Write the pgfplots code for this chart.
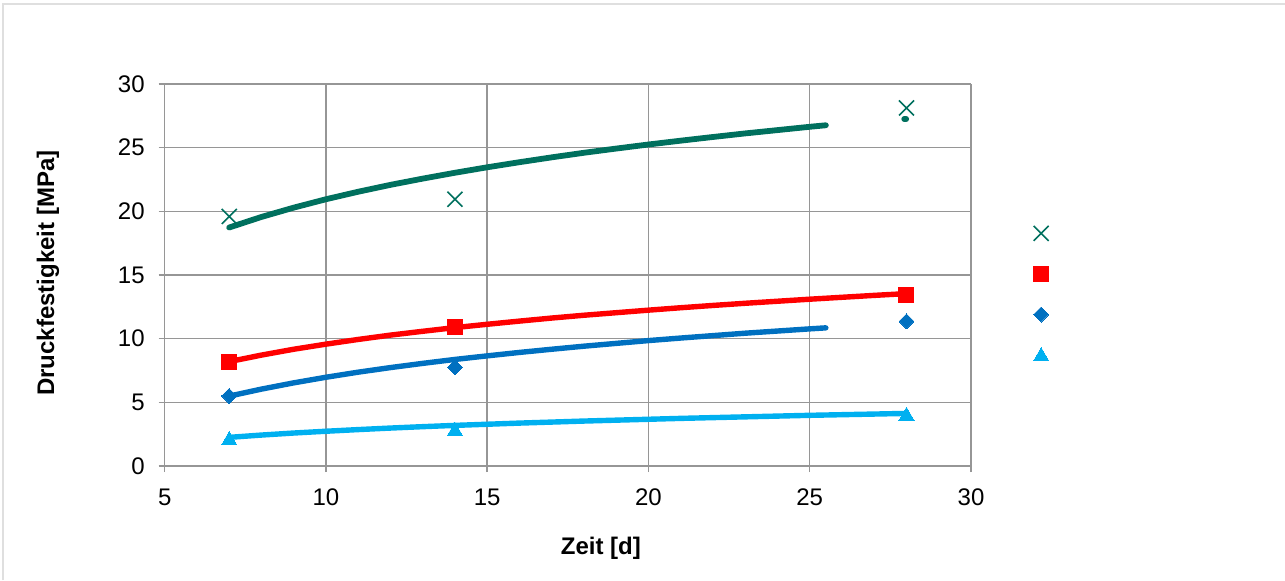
\documentclass[border=0pt]{standalone}
\usepackage{pgfplots}
\pgfplotsset{compat=1.18}
\usepackage{fontspec}
\setmainfont{Liberation Sans}
\definecolor{cgreen}{RGB}{0,112,94}
\definecolor{cred}{RGB}{255,0,0}
\definecolor{cblue}{RGB}{0,112,192}
\definecolor{clblue}{RGB}{0,176,240}
\definecolor{cgrid}{RGB}{150,150,150}
\begin{document}
\begin{tikzpicture}
\path[use as bounding box] (-82.35pt,-57pt) rectangle (560.15pt,233pt);
\draw[gray!25, line width=0.6pt] (-80.85pt,-57pt) -- (-80.85pt,231pt) -- (560.15pt,231pt);
\begin{axis}[
  at={(0pt,0pt)}, anchor=south west,
  scale only axis, width=403.15pt, height=191pt,
  xmin=5, xmax=30, ymin=0, ymax=30,
  xtick={5,10,...,30}, ytick={0,5,...,30},
  grid=major,
  grid style={cgrid, line width=0.75pt},
  axis line style={cgrid, line width=0.75pt},
  tick style={cgrid, line width=0.75pt},
  tick align=outside, major tick length=3pt,
  xtick pos=bottom, ytick pos=left,
  axis x line*=bottom, axis y line*=left,
  tick label style={font=\fontsize{12}{14}\selectfont},
  xticklabel style={yshift=-5pt},
  yticklabel style={xshift=-3.5pt},
  /pgf/number format/assume math mode=true,
  xlabel={\bfseries Zeit [d]},
  ylabel={\bfseries Druckfestigkeit [MPa]},
  label style={font=\fontsize{12}{14}\selectfont},
  xlabel style={at={(axis description cs:0.541,0)}, anchor=center, yshift=-41pt},
  ylabel style={at={(axis description cs:0,0.505)}, anchor=center, yshift=58.35pt},
  legend style={draw=none, fill=none, at={(1.092,0.452)}, anchor=center, row sep=12.8pt,
    font=\fontsize{12}{14}\selectfont, inner sep=0pt},
  legend image code/.code={\draw[#1] plot coordinates {(0pt,0pt)};},
  clip=false,
]
% trend lines
\addplot[cgreen, line width=2.9pt, line cap=round, forget plot] coordinates {
(7,18.73)(8,19.56)(9,20.29)(10,20.95)(11,21.54)(12,22.08)(13,22.57)(14,23.03)(15,23.46)(16,23.86)(17,24.24)(18,24.60)(19,24.93)(20,25.25)(21,25.55)(22,25.84)(23,26.12)(24,26.38)(25,26.64)(25.5,26.76)};
\addplot[cgreen, line width=2.9pt, line cap=round, forget plot] coordinates {(27.93,27.25)(27.99,27.25)};
\addplot[cred, line width=2.7pt, line cap=round, forget plot] coordinates {
(7,8.20)(8,8.71)(9,9.17)(10,9.57)(11,9.94)(12,10.28)(13,10.58)(14,10.87)(15,11.13)(16,11.38)(17,11.62)(18,11.84)(19,12.04)(20,12.24)(21,12.43)(22,12.61)(23,12.78)(24,12.94)(25,13.10)(26,13.25)(27,13.40)(28,13.54)};
\addplot[cblue, line width=2.7pt, line cap=round, forget plot] coordinates {
(7,5.49)(8,6.04)(9,6.53)(10,6.97)(11,7.37)(12,7.73)(13,8.06)(14,8.37)(15,8.65)(16,8.92)(17,9.17)(18,9.41)(19,9.63)(20,9.85)(21,10.05)(22,10.24)(23,10.43)(24,10.60)(25,10.77)(25.5,10.85)};
\addplot[clblue, line width=2.7pt, line cap=round, forget plot] coordinates {
(7,2.25)(8,2.43)(9,2.59)(10,2.73)(11,2.86)(12,2.98)(13,3.09)(14,3.19)(15,3.28)(16,3.37)(17,3.45)(18,3.53)(19,3.60)(20,3.67)(21,3.74)(22,3.80)(23,3.86)(24,3.92)(25,3.98)(26,4.03)(27,4.08)(28,4.13)};
% measured points
\addplot[only marks, mark=x, mark size=5.3pt, mark options={cgreen, line width=0.8pt}] coordinates {(7,19.6)(14,20.95)(28,28.12)};
\addlegendentry{}
\addplot[only marks, mark=square*, mark size=3.75pt, mark options={cred, draw=cred, fill=cred, line width=0pt}] coordinates {(7,8.2)(14,10.93)(28,13.4)};
\addlegendentry{}
\addplot[only marks, mark=square*, mark size=2.65pt, mark options={cblue, fill=cblue, line width=0pt, rotate=45}] coordinates {(7,5.5)(14,7.75)(28,11.35)};
\addlegendentry{}
\addplot[only marks, mark=triangle*, mark size=4.4pt, mark options={clblue, fill=clblue, line width=0pt, yshift=-1pt}] coordinates {(7,2.17)(14,2.89)(28,4.08)};
\addlegendentry{}
\end{axis}
\end{tikzpicture}
\end{document}
